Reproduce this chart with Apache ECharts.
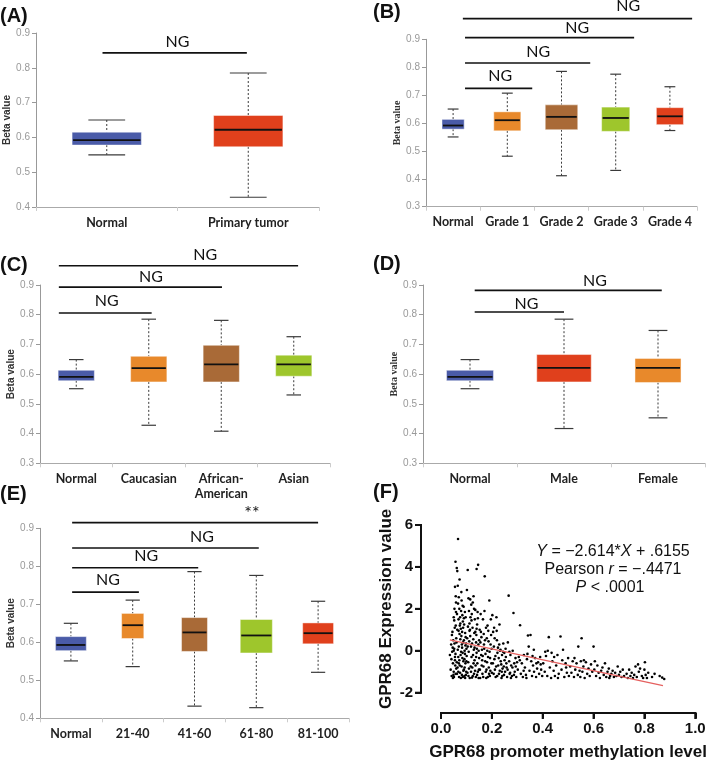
<!DOCTYPE html>
<html><head><meta charset="utf-8">
<script src="https://cdn.jsdelivr.net/npm/echarts/dist/echarts.min.js"></script>
<style>html,body{margin:0;padding:0;background:#fff}#c{width:709px;height:762px}</style>
</head><body><div id="c"></div><script>
// ---------- DATA ----------
const catsA = ['Normal','Primary tumor'];
// [low whisker, Q1, median, Q3, high whisker]
const boxA = [[0.550,0.578,0.592,0.615,0.650],[0.428,0.573,0.622,0.663,0.785]];
const sigA = [[0.47,1.49,0.843]];
const sigLabA = [[1.0,0.874,'NG']];

const catsB = ['Normal','Grade 1','Grade 2','Grade 3','Grade 4'];
const boxB = [[0.550,0.578,0.591,0.613,0.650],[0.481,0.572,0.610,0.640,0.707],[0.411,0.576,0.622,0.665,0.785],[0.430,0.570,0.618,0.657,0.775],[0.573,0.594,0.624,0.655,0.730]];
const sigB = [[0.72,1.96,0.724],[0.72,3.03,0.815],[0.72,3.84,0.906],[0.68,4.91,0.974]];
const sigLabB = [[1.37,0.770,'NG'],[2.07,0.856,'NG'],[2.79,0.942,'NG'],[3.73,1.020,'NG']];

const catsC = ['Normal','Caucasian','African-\nAmerican','Asian'];
const boxC = [[0.551,0.578,0.591,0.613,0.649],[0.428,0.574,0.620,0.660,0.785],[0.408,0.574,0.633,0.697,0.781],[0.530,0.593,0.633,0.664,0.726]];
const sigC = [[0.26,1.54,0.806],[0.26,2.51,0.893],[0.26,3.56,0.965]];
const sigLabC = [[0.92,0.847,'NG'],[1.53,0.928,'NG'],[2.28,1.001,'NG']];

const catsD = ['Normal','Male','Female'];
const boxD = [[0.551,0.578,0.591,0.613,0.649],[0.417,0.574,0.621,0.666,0.785],[0.453,0.572,0.621,0.653,0.747]];
const sigD = [[0.55,1.50,0.809],[0.55,2.54,0.882]];
const sigLabD = [[1.10,0.836,'NG'],[1.83,0.915,'NG']];

const catsE = ['Normal','21-40','41-60','61-80','81-100'];
const boxE = [[0.551,0.578,0.593,0.615,0.650],[0.536,0.610,0.645,0.676,0.711],[0.432,0.576,0.626,0.665,0.786],[0.428,0.572,0.618,0.660,0.776],[0.521,0.596,0.624,0.651,0.708]];
const sigE = [[0.52,1.60,0.732],[0.52,2.56,0.796],[0.52,3.54,0.848],[0.52,4.50,0.915]];
const sigLabE = [[1.10,0.764,'NG'],[1.72,0.827,'NG'],[2.62,0.878,'NG'],[3.43,0.941,'**']];

// Panel F: methylation level (x) vs expression (y)
const xTicksF = [0, 0.2, 0.4, 0.6, 0.8, 1.0];
const yTicksF = [-2, 0, 2, 4, 6];
const scatterF = [
[0.035,-0.2],[0.04,0.3],[0.042,-1.2],[0.045,0.9],[0.047,-0.6],[0.05,1.6],[0.05,-1.0],[0.052,0.1],[0.053,2.0],[0.055,-0.3],[0.055,3.05],[0.057,4.25],[0.058,1.2],[0.058,-1.1],[0.06,0.6],[0.038,-0.9],[0.044,-0.05],[0.048,0.5],[0.051,-1.25],[0.054,1.1],[0.056,-0.7],[0.059,2.3],[0.041,-0.4],[0.046,0.15],[0.049,-1.15],[0.052,1.45],[0.057,-0.15],[0.06,-0.85],[0.043,0.75],[0.053,0.35],[0.058,2.6],[0.059,1.85],[0.047,-1.3],[0.055,-0.45],[0.05,0.0],
[0.062,3.95],[0.064,3.8],[0.067,5.33],[0.066,3.1],[0.07,2.55],[0.072,2.0],[0.075,1.6],[0.078,1.05],[0.08,0.7],[0.082,0.3],[0.085,-0.1],[0.088,-0.5],[0.09,-0.9],[0.092,-1.2],[0.095,-1.3],[0.063,-1.1],[0.065,-0.8],[0.068,-0.3],[0.07,0.2],[0.073,0.8],[0.076,1.3],[0.079,1.9],[0.081,2.4],[0.084,1.7],[0.087,1.1],[0.09,0.5],[0.093,0.0],[0.096,-0.6],[0.099,-1.0],[0.061,0.4],[0.064,1.0],[0.069,1.5],[0.071,-1.25],[0.074,-0.7],[0.077,-0.2],[0.083,0.9],[0.086,1.4],[0.089,2.1],[0.094,1.85],[0.097,0.65],[0.1,0.1],[0.066,0.05],[0.069,0.95],[0.072,-0.45],[0.075,-1.05],[0.078,-1.3],[0.081,-0.75],[0.084,-0.35],[0.087,0.4],[0.091,1.25],[0.094,-0.15],[0.098,-1.15],[0.062,-0.55],[0.067,2.25],[0.073,3.4],[0.08,2.8],[0.085,2.15],[0.09,1.55],[0.095,0.85],[0.099,0.35],[0.063,1.75],[0.068,-1.0],[0.076,0.55],[0.082,-1.15],[0.088,-0.95],[0.092,-0.4],[0.096,0.25],[0.07,-0.6],[0.079,-0.05],[0.086,-1.25],[0.093,-0.8],[0.1,-0.5],[0.074,1.2],[0.083,0.15],[0.097,1.6],
[0.102,2.9],[0.105,3.85],[0.108,2.5],[0.11,1.9],[0.112,1.3],[0.115,0.7],[0.118,0.2],[0.12,-0.3],[0.123,-0.8],[0.125,-1.2],[0.128,2.6],[0.13,2.0],[0.133,1.5],[0.135,0.9],[0.138,0.4],[0.14,-0.1],[0.143,-0.6],[0.145,-1.0],[0.148,-1.3],[0.146,4.1],[0.14,3.9],[0.104,-1.05],[0.107,-0.55],[0.109,-0.05],[0.111,0.45],[0.114,1.0],[0.116,1.6],[0.119,2.2],[0.121,1.75],[0.124,1.1],[0.127,0.55],[0.129,0.05],[0.132,-0.45],[0.134,-0.95],[0.137,-1.25],[0.139,0.75],[0.142,1.25],[0.144,1.85],[0.147,0.3],[0.15,-0.35],[0.103,0.6],[0.106,1.15],[0.113,-1.3],[0.117,-0.75],[0.122,0.35],[0.126,-0.2],[0.131,0.85],[0.136,-0.7],[0.141,0.1],[0.149,-0.9],[0.101,-0.25],[0.11,-0.85],[0.12,1.45],[0.13,-1.1],[0.14,1.05],[0.15,0.5],[0.105,0.2],[0.115,2.45],[0.125,2.3],[0.135,1.95],[0.145,1.55],[0.108,-1.2],[0.118,-1.0],[0.128,-0.6],[0.138,-0.3],[0.148,0.0],[0.112,0.95],[0.122,-1.28],[0.132,0.15],[0.142,-1.15],
[0.152,1.0],[0.155,0.4],[0.158,-0.2],[0.16,-0.7],[0.163,-1.1],[0.165,1.5],[0.168,0.8],[0.17,0.1],[0.172,3.55],[0.174,-0.5],[0.176,-1.0],[0.178,-1.3],[0.18,0.6],[0.183,1.2],[0.185,-0.3],[0.188,-0.8],[0.19,2.4],[0.192,-1.2],[0.195,0.3],[0.198,-0.6],[0.2,-1.05],[0.153,-0.9],[0.156,1.75],[0.159,0.65],[0.162,-0.45],[0.166,-1.25],[0.169,0.3],[0.171,1.9],[0.175,-0.15],[0.179,-0.9],[0.182,0.0],[0.186,0.95],[0.189,-1.1],[0.193,-0.35],[0.197,0.75],[0.154,-1.3],[0.161,0.05],[0.167,-0.75],[0.173,0.5],[0.177,1.1],[0.184,-1.25],[0.191,-0.05],[0.196,1.5],[0.199,0.1],[0.157,0.9],[0.164,-0.25],[0.181,-0.55],[0.187,0.45],[0.194,-0.95],
[0.202,1.7],[0.205,0.9],[0.208,0.2],[0.21,-0.4],[0.212,-0.9],[0.215,-1.25],[0.218,1.6],[0.22,0.5],[0.222,-0.1],[0.225,-0.7],[0.228,-1.1],[0.23,1.25],[0.232,0.0],[0.235,-0.5],[0.238,-1.3],[0.24,-0.2],[0.242,-0.85],[0.245,0.35],[0.248,-1.15],[0.25,-0.45],[0.204,-0.6],[0.207,-1.1],[0.211,0.6],[0.214,-0.25],[0.217,-0.75],[0.221,-1.2],[0.224,0.15],[0.227,-0.35],[0.231,-0.95],[0.234,0.05],[0.237,-0.65],[0.241,-1.2],[0.244,-0.05],[0.247,-0.75],[0.209,1.1],[0.219,0.95],[0.229,0.3],[0.239,-1.0],[0.249,-0.1],
[0.252,-1.0],[0.255,-0.3],[0.258,-0.8],[0.26,-1.25],[0.263,0.4],[0.266,2.63],[0.268,-0.5],[0.27,-1.1],[0.273,-0.2],[0.276,-0.7],[0.279,-1.2],[0.282,0.0],[0.285,1.8],[0.288,-0.6],[0.29,-1.0],[0.293,-0.35],[0.296,-1.25],[0.299,-0.55],[0.254,0.1],[0.262,-0.9],[0.269,-0.05],[0.275,-1.3],[0.281,-0.8],[0.287,-1.15],[0.294,-0.75],[0.257,-0.6],[0.272,-1.05],
[0.302,-0.9],[0.306,-0.3],[0.311,1.22],[0.314,-1.1],[0.318,-0.6],[0.322,-1.25],[0.326,-0.2],[0.33,-0.8],[0.334,-1.15],[0.338,-0.4],[0.342,0.73],[0.345,0.2],[0.348,-0.95],[0.352,0.75],[0.355,-0.5],[0.358,-1.2],[0.362,-0.7],[0.366,-1.0],[0.37,-0.35],[0.374,-1.25],[0.378,-0.85],[0.382,-0.55],[0.386,-1.1],[0.39,-0.3],[0.394,-0.9],[0.398,-1.2],[0.31,-0.45],[0.325,-0.95],[0.34,-0.15],[0.36,-0.25],[0.375,-0.6],[0.392,-0.65],[0.336,-1.3],[0.365,0.05],
[0.402,-0.6],[0.408,-1.0],[0.413,-0.25],[0.418,-1.2],[0.424,0.65],[0.428,-0.8],[0.433,-1.3],[0.438,-0.5],[0.443,-0.95],[0.448,-1.2],[0.453,-0.7],[0.458,-0.2],[0.463,-1.1],[0.47,0.68],[0.474,-0.9],[0.48,0.05],[0.485,-1.25],[0.49,-0.6],[0.495,-1.05],[0.5,-0.35],[0.41,-0.05],[0.42,0.0],[0.445,-0.3],[0.46,-1.3],[0.477,-0.45],[0.492,-0.8],[0.435,-0.1],
[0.503,-1.2],[0.508,-0.75],[0.513,-1.05],[0.518,-0.5],[0.523,-1.25],[0.528,-0.9],[0.533,-0.6],[0.538,-1.15],[0.54,0.2],[0.545,-0.95],[0.55,-0.5],[0.553,0.6],[0.556,-1.0],[0.56,-0.75],[0.565,-1.3],[0.57,-0.55],[0.575,-1.1],[0.58,-0.85],[0.585,-1.2],[0.59,-0.65],[0.595,-1.0],[0.6,0.2],[0.548,-1.25],[0.525,-0.35],[0.562,-0.45],
[0.603,-0.9],[0.605,-0.5],[0.61,-1.2],[0.615,-0.7],[0.62,-1.05],[0.625,-1.3],[0.63,-0.95],[0.635,-0.8],[0.64,-1.15],[0.645,-0.6],[0.65,-1.25],[0.655,-1.0],[0.66,-0.85],[0.665,-1.2],[0.67,-1.1],[0.675,-0.95],[0.68,-1.25],[0.685,-1.05],[0.69,-1.2],[0.695,-0.75],[0.7,-1.15],[0.662,-1.3],
[0.705,-1.0],[0.71,-1.25],[0.715,-0.9],[0.72,-1.2],[0.73,-1.1],[0.735,-1.3],[0.74,-0.9],[0.745,-1.2],[0.75,-1.05],[0.755,-1.3],[0.76,-1.15],[0.765,-0.75],[0.77,-1.25],[0.775,-0.65],[0.778,-1.0],[0.783,-0.85],[0.79,-1.2],[0.795,-1.3],
[0.8,-0.9],[0.802,-0.55],[0.805,-1.15],[0.81,-1.3],[0.815,-1.05],[0.83,-1.25],[0.84,-1.1],[0.86,-1.2],[0.87,-1.28],[0.878,-1.35]
];
const regLineF = [[0.035,0.524],[0.873,-1.667]];

// ---------- STYLE ----------
const BLUE='#4a5ba8', RED='#e0401c', ORANGE='#e8892b', BROWN='#a96a37', GREEN='#9ec62c';
const SANS='Liberation Sans, Arial, sans-serif';
const LBL='Lato, Liberation Sans, sans-serif';
const F_OFFSET = 20, F_TICK = 6;

const panels = [
 {cats:catsA, box:boxA, sig:sigA, lab:sigLabA, colors:[BLUE,RED], widths:[0.49,0.49], cap:0.26, ymin:0.4,
  grid:{left:36, top:33, width:283, height:174}, nameGap:21, nameFamily:SANS},
 {cats:catsB, box:boxB, sig:sigB, lab:sigLabB, colors:[BLUE,ORANGE,BROWN,GREEN,RED], widths:[0.41,0.5,0.6,0.52,0.5], cap:0.2, ymin:0.3,
  grid:{left:426, top:39.3, width:271, height:167.4}, nameGap:21, nameFamily:'Liberation Serif, serif'},
 {cats:catsC, box:boxC, sig:sigC, lab:sigLabC, colors:[BLUE,ORANGE,BROWN,GREEN], widths:[0.5,0.5,0.5,0.5], cap:0.2, ymin:0.3,
  grid:{left:40, top:285, width:290, height:178.3}, nameGap:22, nameFamily:SANS},
 {cats:catsD, box:boxD, sig:sigD, lab:sigLabD, colors:[BLUE,RED,ORANGE], widths:[0.5,0.58,0.49], cap:0.2, ymin:0.3,
  grid:{left:423, top:285, width:282, height:178.3}, nameGap:21, nameFamily:'Liberation Serif, serif'},
 {cats:catsE, box:boxE, sig:sigE, lab:sigLabE, colors:[BLUE,ORANGE,BROWN,GREEN,RED], widths:[0.5,0.36,0.42,0.52,0.5], cap:0.23, ymin:0.4,
  grid:{left:40, top:528.3, width:309, height:190}, nameGap:23, nameFamily:SANS}
];

function boxRenderer(p){
  return function(params, api){
    const i = api.value(0);
    const lo = api.coord([i, api.value(1)]);
    const q1 = api.coord([i, api.value(2)]);
    const md = api.coord([i, api.value(3)]);
    const q3 = api.coord([i, api.value(4)]);
    const hi = api.coord([i, api.value(5)]);
    const band = api.size([1, 0])[0];
    const bw = band * p.widths[params.dataIndex], cw = band * p.cap, x = md[0];
    const dash = {stroke:'#3a3a3a', lineWidth:1, lineDash:[2,2]};
    const capS = {stroke:'#3a3a3a', lineWidth:1.2};
    return {type:'group', children:[
      {type:'line', shape:{x1:x,y1:hi[1],x2:x,y2:q3[1]}, style:dash},
      {type:'line', shape:{x1:x,y1:q1[1],x2:x,y2:lo[1]}, style:dash},
      {type:'line', shape:{x1:x-cw/2,y1:hi[1],x2:x+cw/2,y2:hi[1]}, style:capS},
      {type:'line', shape:{x1:x-cw/2,y1:lo[1],x2:x+cw/2,y2:lo[1]}, style:capS},
      {type:'rect', shape:{x:x-bw/2,y:q3[1],width:bw,height:q1[1]-q3[1]},
        style:{fill:p.colors[params.dataIndex], stroke:'rgba(255,255,255,0.45)', lineWidth:1}},
      {type:'line', shape:{x1:x-bw/2+1,y1:md[1],x2:x+bw/2-1,y2:md[1]}, style:{stroke:'#111', lineWidth:1.8}}
    ]};
  };
}
function sigRenderer(p){
  return function(params, api){
    const a = api.coord([api.value(0), api.value(2)]);
    const b = api.coord([api.value(1), api.value(2)]);
    const L = p.lab[params.dataIndex];
    const t = api.coord([L[0], L[1]]);
    const fs = L[2] === '**' ? 18 : 16;
    return {type:'group', children:[
      {type:'line', shape:{x1:a[0],y1:a[1],x2:b[0],y2:b[1]}, style:{stroke:'#111', lineWidth:1.6}},
      {type:'text', x:t[0], y:t[1], style:{text:L[2], fill:'#111', font:fs+'px '+LBL, align:'center', verticalAlign:'middle'}}
    ]};
  };
}

const grids=[], xAxes=[], yAxes=[], series=[];
panels.forEach((p,k)=>{
  grids.push(Object.assign({containLabel:false}, p.grid));
  xAxes.push({type:'category', gridIndex:k, data:p.cats,
    axisLine:{show:true, lineStyle:{color:'#aaa'}},
    axisTick:{show:true, length:4, lineStyle:{color:'#ccc'}},
    axisLabel:{interval:0, margin:8, color:'#222', fontFamily:LBL, fontWeight:'bold', fontSize:12.5, lineHeight:15}});
  xAxes.push({type:'value', gridIndex:k, min:0, max:p.cats.length, show:false});
  yAxes.push({type:'value', gridIndex:k, min:p.ymin, max:0.9, interval:0.1,
    name:'Beta value', nameLocation:'middle', nameGap:p.nameGap,
    nameTextStyle:{fontFamily:p.nameFamily, fontWeight:'bold', fontSize:10, color:'#333'},
    axisLine:{show:true, onZero:false, lineStyle:{color:'#999'}},
    axisTick:{show:true, length:4, lineStyle:{color:'#999'}},
    splitLine:{show:false},
    axisLabel:{color:'#999', fontSize:10, fontFamily:SANS, margin:6, formatter:v=>v.toFixed(1)}});
  series.push({type:'custom', xAxisIndex:2*k, yAxisIndex:k,
    data:p.box.map((b,i)=>[i].concat(b)), encode:{x:0, y:[1,2,3,4,5]},
    renderItem:boxRenderer(p), silent:true});
  series.push({type:'custom', xAxisIndex:2*k+1, yAxisIndex:k,
    data:p.sig, encode:{x:[0,1], y:2}, renderItem:sigRenderer(p), silent:true, clip:false});
});

// Panel F
grids.push({left:441, top:525, width:257.3, height:167.7, containLabel:false});
xAxes.push({type:'value', gridIndex:5, min:xTicksF[0], max:xTicksF[xTicksF.length-1], interval:0.2, offset:F_OFFSET,
  axisLine:{show:true, onZero:false, lineStyle:{color:'#111', width:2}},
  axisTick:{show:true, length:F_TICK, lineStyle:{color:'#111', width:2}},
  splitLine:{show:false},
  axisLabel:{color:'#111', fontFamily:SANS, fontWeight:'bold', fontSize:15, margin:9, formatter:v=>v.toFixed(1)},
  name:'GPR68 promoter methylation level', nameLocation:'middle', nameGap:31,
  nameTextStyle:{color:'#111', fontFamily:SANS, fontWeight:'bold', fontSize:17}});
yAxes.push({type:'value', gridIndex:5, min:yTicksF[0], max:yTicksF[yTicksF.length-1], interval:2, offset:F_OFFSET,
  axisLine:{show:true, onZero:false, lineStyle:{color:'#111', width:2}},
  axisTick:{show:true, length:F_TICK, lineStyle:{color:'#111', width:2}},
  splitLine:{show:false},
  axisLabel:{color:'#111', fontFamily:SANS, fontWeight:'bold', fontSize:15, margin:8},
  name:'GPR68 Expression value', nameLocation:'middle', nameGap:26,
  nameTextStyle:{color:'#111', fontFamily:SANS, fontWeight:'bold', fontSize:17}});
series.push({type:'scatter', xAxisIndex:10, yAxisIndex:5, data:scatterF, symbol:'circle', symbolSize:2.6,
  itemStyle:{color:'#000', opacity:1}, silent:true});
series.push({type:'line', xAxisIndex:10, yAxisIndex:5, data:regLineF, symbol:'none',
  lineStyle:{color:'#e5605f', width:1.3}, z:3, silent:true});

const rich = {i:{fontStyle:'italic', fontSize:16, fontFamily:SANS, fill:'#111'}};
function letter(t,x,y){ return {type:'text', x:x, y:y, style:{text:t, font:'bold 20px '+SANS, fill:'#111'}}; }
const graphic = [
  letter('(A)',0,6), letter('(B)',373,2), letter('(C)',0,255), letter('(D)',373,254), letter('(E)',0,484), letter('(F)',373,482),
  {type:'text', x:613, y:552, style:{text:'{i|Y} = \u22122.614*{i|X} + .6155', rich:rich, fontSize:16, fontFamily:SANS, fill:'#111', align:'center', verticalAlign:'middle'}},
  {type:'text', x:613, y:570, style:{text:'Pearson {i|r} = \u2212.4471', rich:rich, fontSize:16, fontFamily:SANS, fill:'#111', align:'center', verticalAlign:'middle'}},
  {type:'text', x:610, y:588, style:{text:'{i|P} < .0001', rich:rich, fontSize:16, fontFamily:SANS, fill:'#111', align:'center', verticalAlign:'middle'}}
];

const chart = echarts.init(document.getElementById('c'), null, {renderer:'canvas'});
chart.setOption({animation:false, backgroundColor:'#fff', grid:grids, xAxis:xAxes, yAxis:yAxes, series:series, graphic:graphic});

// Detached Prism-style axis frame for panel F, positioned through the panel's own scales
const toPx = v => chart.convertToPixel({gridIndex:5}, v);
const x0 = xTicksF[0], x1 = xTicksF[xTicksF.length-1], y0 = yTicksF[0], y1 = yTicksF[yTicksF.length-1];
const pMin = toPx([x0, y0]), pMax = toPx([x1, y1]);
const axX = Math.round(pMin[0] - F_OFFSET), axY = Math.round(pMin[1] + F_OFFSET);
const fst = {stroke:'#111', lineWidth:2};
const frame = [
  {type:'line', z:100, shape:{x1:axX, y1:pMax[1]-1, x2:axX, y2:pMin[1]+1}, style:fst},
  {type:'line', z:100, shape:{x1:pMin[0]-1, y1:axY, x2:pMax[0]+1, y2:axY}, style:fst}
];
yTicksF.forEach(v=>{ const y = toPx([x0, v])[1]; frame.push({type:'line', z:100, shape:{x1:axX-F_TICK, y1:y, x2:axX, y2:y}, style:fst}); });
xTicksF.forEach(v=>{ const x = toPx([v, y0])[0]; frame.push({type:'line', z:100, shape:{x1:x, y1:axY, x2:x, y2:axY+F_TICK}, style:fst}); });
chart.setOption({graphic: graphic.concat(frame)});
</script></body></html>
